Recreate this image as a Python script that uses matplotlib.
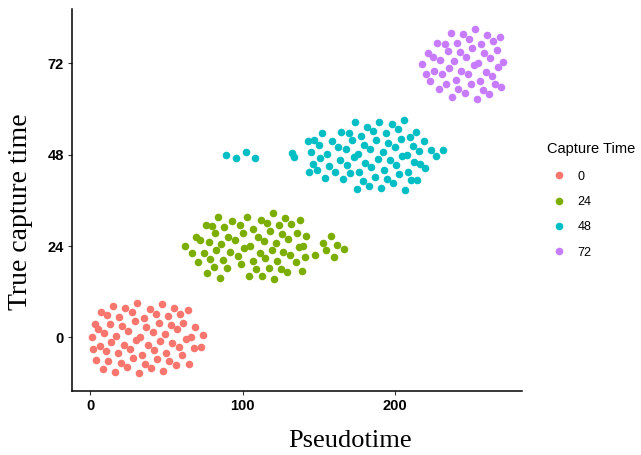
import numpy as np
import matplotlib
matplotlib.use("Agg")
import matplotlib.pyplot as plt
from matplotlib.lines import Line2D

# Pseudotime (x) and true capture time (y), per capture group
x_0 = [30.8, 46.8, 14.8, 22.9, 27.1, 38.9, 54.9, 6.9, 10.9, 42.9, 58.8, 63.9, 19.0, 35.0,
       51.0, 2.8, 29.1, 44.8, 60.8, 12.9, 21.0, 36.7, 52.7, 68.9, 4.8, 24.9, 40.9, 56.9,
       8.9, 16.8, 49.0, 73.9, 0.8, 32.8, 30.0, 62.8, 65.8, 45.7, 53.8, 13.7, 21.8, 37.8,
       6.1, 58.0, 67.8, 72.8, 26.0, 41.8, 1.9, 10.0, 49.9, 17.9, 33.9, 59.9, 28.0, 44.0,
       3.9, 11.8, 51.8, 19.9, 35.8, 56.0, 64.7, 23.8, 39.8, 8.0, 47.9, 15.9, 31.9]
y_0 = [9.0, 8.7, 8.4, 7.7, 6.6, 7.4, 7.8, 6.8, 5.9, 6.2, 6.2, 7.1, 5.3, 5.0,
       5.7, 3.6, 4.2, 3.9, 3.8, 3.5, 2.9, 2.7, 3.2, 2.7, 2.1, 1.8, 1.4, 2.1,
       1.1, 0.5, 0.8, 0.7, 0.0, 0.2, -0.7, -0.3, 0.0, -0.9, -1.5, -1.3, -1.9, -2.1,
       -2.2, -2.6, -2.8, -2.6, -3.0, -3.3, -3.1, -3.6, -4.0, -4.2, -4.6, -4.6, -5.4, -5.7,
       -5.8, -6.1, -6.3, -6.6, -7.0, -7.3, -7.0, -7.7, -8.1, -8.2, -8.7, -9.1, -9.4]

x_24 = [119.7, 83.8, 102.8, 93.0, 111.8, 128.0, 137.8, 75.7, 79.6, 98.0, 116.0, 124.1,
        131.9, 87.9, 106.8, 117.9, 82.0, 100.0, 135.9, 69.6, 72.0, 90.6, 109.8, 126.0,
        141.8, 95.0, 77.7, 85.8, 113.8, 121.6, 130.0, 61.9, 100.6, 104.6, 137.0, 139.8,
        82.7, 91.9, 111.1, 119.0, 126.7, 66.9, 74.8, 96.7, 130.8, 78.8, 106.5, 114.6,
        122.7, 140.9, 86.8, 134.8, 70.6, 98.9, 147.7, 153.0, 157.8, 161.9, 154.7, 166.7,
        159.7, 80.9, 89.7, 108.7, 117.0, 125.1, 128.9, 138.7, 76.8, 112.9, 103.9, 84.9, 120.8]
y_24 = [32.7, 31.7, 31.6, 30.7, 30.9, 31.4, 30.8, 29.6, 29.4, 29.6, 30.2, 29.6,
        29.7, 28.9, 28.4, 27.9, 27.4, 27.5, 27.5, 26.4, 25.5, 26.5, 26.4, 27.1,
        26.7, 25.5, 25.0, 24.6, 25.4, 24.9, 25.9, 24.0, 23.4, 24.1, 23.7, 24.1,
        22.9, 22.5, 22.1, 23.1, 22.5, 22.1, 22.1, 21.5, 21.7, 20.7, 20.1, 20.8,
        20.2, 21.1, 20.3, 19.9, 19.9, 19.4, 21.8, 24.8, 26.6, 24.3, 23.1, 23.3,
        21.1, 18.4, 18.3, 17.9, 18.3, 17.9, 17.2, 17.4, 16.9, 16.2, 16.1, 15.6, 15.4]

x_48 = [88.8, 95.8, 101.9, 107.8, 132.6, 133.7, 173.7, 189.5, 205.7, 181.8, 197.8, 201.7,
        151.8, 164.8, 169.8, 177.7, 185.8, 193.9, 209.6, 213.8, 142.9, 146.8, 149.9, 158.6,
        171.8, 187.7, 195.6, 203.7, 218.8, 162.8, 168.0, 179.6, 183.8, 199.8, 212.0, 144.6,
        155.6, 175.7, 172.8, 191.9, 204.6, 207.6, 215.7, 223.8, 231.7, 226.7, 150.7, 163.9,
        188.8, 196.5, 145.9, 156.7, 168.7, 180.5, 200.6, 212.7, 216.6, 219.7, 184.4, 148.8,
        143.5, 160.8, 170.7, 176.6, 192.8, 208.3, 202.6, 153.8, 165.6, 186.9, 194.7, 210.5,
        214.4, 178.8, 198.7, 182.7, 190.8, 174.8, 206.6]
y_48 = [48.0, 47.2, 48.7, 47.1, 48.4, 47.5, 56.5, 56.6, 57.1, 55.4, 56.0, 54.8,
        53.7, 53.9, 53.8, 53.0, 54.3, 53.6, 52.6, 54.1, 51.5, 51.9, 50.5, 51.5,
        51.8, 51.8, 51.2, 52.2, 51.7, 50.1, 49.4, 50.7, 49.4, 50.1, 50.2, 48.6,
        48.3, 48.3, 47.3, 48.8, 47.6, 48.0, 49.0, 49.3, 49.3, 47.8, 47.1, 46.5,
        47.0, 46.5, 45.7, 45.1, 45.4, 45.8, 45.4, 46.0, 45.5, 44.6, 44.7, 43.9,
        43.4, 43.4, 43.1, 43.5, 44.0, 43.4, 42.9, 41.9, 41.7, 42.2, 41.6, 41.5,
        41.4, 41.1, 40.6, 39.8, 39.3, 38.9, 38.7]

x_72 = [252.7, 236.8, 244.6, 248.8, 260.6, 268.7, 264.6, 227.8, 232.6, 240.7, 256.5, 250.6,
        266.8, 221.7, 234.8, 242.7, 258.7, 224.7, 246.6, 262.6, 229.8, 238.5, 251.7, 254.7,
        270.7, 267.9, 217.7, 235.7, 225.6, 243.6, 259.8, 220.6, 230.9, 247.7, 263.7, 239.8,
        255.8, 222.8, 233.7, 249.7, 265.7, 269.6, 228.7, 241.6, 245.8, 257.8, 261.8, 237.6, 253.9]
y_72 = [81.0, 80.0, 79.7, 78.5, 79.4, 78.9, 78.0, 77.4, 77.0, 77.3, 77.0, 76.1,
        75.5, 74.8, 75.2, 74.9, 74.7, 73.6, 73.8, 73.4, 72.8, 72.6, 71.5, 72.2,
        72.5, 71.1, 71.9, 70.7, 70.1, 70.1, 69.8, 69.2, 69.1, 69.1, 68.7, 67.7,
        67.4, 67.3, 66.7, 66.5, 66.5, 65.9, 65.4, 65.4, 64.2, 65.0, 63.9, 63.1, 62.7]

groups = ["0", "24", "48", "72"]
colors = ["#F8766D", "#7CAE00", "#00BFC4", "#C77CFF"]
xs = [x_0, x_24, x_48, x_72]
ys = [y_0, y_24, y_48, y_72]

fig = plt.figure(figsize=(6.41, 4.55), dpi=100)
ax = fig.add_axes([72 / 641, 1 - 391 / 455, 450 / 641, 382 / 455])

for g, c, x, y in zip(groups, colors, xs, ys):
    ax.scatter(x, y, s=30, color=c, label=g, linewidths=0)

ax.set_xlim(-12.1, 283.4)
ax.set_ylim(-14.06, 86.3)
ax.set_xticks([0, 100, 200])
ax.set_yticks([0, 24, 48, 72])

# ggplot classic look
for side in ["top", "right"]:
    ax.spines[side].set_visible(False)
for side in ["left", "bottom"]:
    ax.spines[side].set_linewidth(1.1)
ax.tick_params(length=3, width=0.8, color="#333333", labelsize=10.5, pad=3)
for lab in ax.get_xticklabels() + ax.get_yticklabels():
    lab.set_fontweight("bold")
    lab.set_family("Liberation Sans")

fig.text(350 / 641, 1 - 441 / 455, "Pseudotime", ha="center", va="center",
         family="Liberation Serif", fontsize=19)
fig.text(21 / 641, 1 - 212 / 455, "True capture time", ha="center", va="center",
         rotation=90, family="Liberation Serif", fontsize=20)

# legend title as separate text so the entries can sit where ggplot puts them
fig.text(547 / 641, 1 - 153 / 455, "Capture Time", ha="left", va="baseline",
         family="Liberation Sans", fontsize=10.5)
handles = [Line2D([], [], linestyle="none", marker="o", markersize=5.5,
                  markerfacecolor=c, markeredgewidth=0) for c in colors]
leg = ax.legend(handles, groups, loc="upper left",
                bbox_to_anchor=(553 / 641, 1 - 170.5 / 455),
                bbox_transform=fig.transFigure, frameon=False,
                handlelength=1.0, handletextpad=0.95, labelspacing=1.07,
                borderpad=0, borderaxespad=0, prop={"family": "Liberation Sans", "size": 9})

fig.savefig("out.png", dpi=100)
